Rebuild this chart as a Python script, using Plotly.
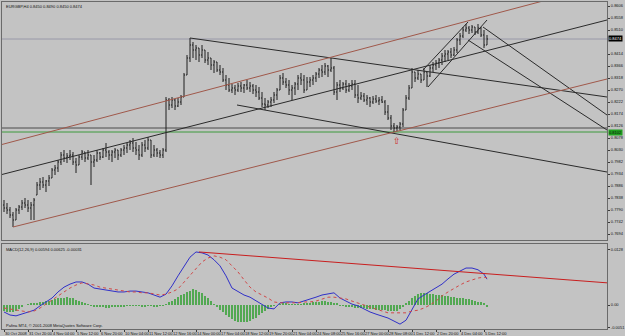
import plotly.graph_objects as go

W, H = 625, 336
BG = "#c3c3c3"
FONT = "Liberation Sans"

# ---------------- data ----------------
bars = list(range(162))

high = [0.7830,0.7818,0.7802,0.7782,0.7798,0.7810,0.7830,0.7838,0.7830,0.7822,0.7838,
        0.7902,0.7918,0.7922,0.7910,0.7930,0.7958,0.7970,0.7990,0.8022,0.8030,
        0.8018,0.8030,0.8022,0.7998,0.8010,0.8030,0.8022,0.8030,0.8010,0.8010,
        0.8030,0.8022,0.8038,0.8058,0.8030,0.8030,0.8038,0.8030,0.8038,0.8050,
        0.8058,0.8070,0.8078,0.8062,0.8050,0.8062,0.8070,0.8082,0.8070,0.8050,
        0.8038,0.8030,0.8038,0.8242,0.8238,0.8242,0.8234,0.8238,0.8250,0.8338,
        0.8410,0.8478,0.8462,0.8450,0.8438,0.8450,0.8430,0.8422,0.8398,0.8390,
        0.8382,0.8370,0.8358,0.8330,0.8318,0.8294,0.8290,0.8298,0.8302,0.8294,
        0.8310,0.8302,0.8294,0.8290,0.8282,0.8262,0.8238,0.8230,0.8242,0.8262,
        0.8278,0.8330,0.8338,0.8318,0.8310,0.8290,0.8302,0.8330,0.8338,0.8330,
        0.8322,0.8322,0.8330,0.8342,0.8358,0.8370,0.8378,0.8370,0.8398,0.8366,
        0.8302,0.8310,0.8302,0.8310,0.8298,0.8310,0.8310,0.8290,0.8262,0.8258,
        0.8250,0.8242,0.8246,0.8250,0.8242,0.8246,0.8230,0.8210,0.8170,0.8138,
        0.8130,0.8142,0.8198,0.8250,0.8290,0.8358,0.8342,0.8350,0.8334,0.8358,
        0.8342,0.8370,0.8382,0.8390,0.8398,0.8418,0.8430,0.8430,0.8438,0.8442,
        0.8478,0.8498,0.8522,0.8534,0.8526,0.8530,0.8522,0.8534,0.8522,0.8510,0.8490]

low = [0.7782,0.7774,0.7758,0.7722,0.7750,0.7774,0.7790,0.7798,0.7782,0.7750,0.7750,
       0.7850,0.7870,0.7878,0.7862,0.7886,0.7918,0.7930,0.7942,0.7970,0.7982,
       0.7978,0.7990,0.7970,0.7938,0.7970,0.7990,0.7982,0.7990,0.7890,0.7962,
       0.7982,0.7990,0.7998,0.8002,0.7990,0.7982,0.7998,0.7990,0.8002,0.8010,
       0.8018,0.8030,0.8022,0.8010,0.7990,0.8002,0.8022,0.8030,0.7998,0.8002,
       0.8002,0.7998,0.7998,0.8022,0.8190,0.8198,0.8190,0.8202,0.8210,0.8242,
       0.8330,0.8382,0.8398,0.8390,0.8382,0.8398,0.8378,0.8370,0.8350,0.8338,
       0.8342,0.8330,0.8302,0.8270,0.8262,0.8258,0.8250,0.8262,0.8262,0.8258,
       0.8270,0.8262,0.8254,0.8242,0.8230,0.8202,0.8190,0.8198,0.8202,0.8218,
       0.8230,0.8270,0.8290,0.8278,0.8250,0.8230,0.8250,0.8270,0.8290,0.8258,
       0.8270,0.8282,0.8290,0.8302,0.8318,0.8322,0.8330,0.8322,0.8342,0.8250,
       0.8230,0.8262,0.8270,0.8258,0.8262,0.8270,0.8238,0.8218,0.8230,0.8222,
       0.8210,0.8202,0.8214,0.8218,0.8210,0.8218,0.8170,0.8150,0.8110,0.8102,
       0.8106,0.8110,0.8122,0.8190,0.8230,0.8278,0.8302,0.8310,0.8298,0.8310,
       0.8282,0.8322,0.8342,0.8350,0.8358,0.8370,0.8382,0.8390,0.8398,0.8406,
       0.8418,0.8450,0.8478,0.8502,0.8494,0.8498,0.8490,0.8494,0.8482,0.8438,0.8450]

open_ = [0.7810,0.7798,0.7790,0.7770,0.7750,0.7790,0.7802,0.7818,0.7810,0.7798,0.7810,
         0.7850,0.7890,0.7902,0.7890,0.7906,0.7918,0.7950,0.7958,0.7982,0.8010,
         0.7998,0.8006,0.8010,0.7982,0.7970,0.8002,0.8022,0.7998,0.8010,0.7982,
         0.7990,0.8018,0.8002,0.8030,0.8022,0.8010,0.8022,0.8030,0.8010,0.8030,
         0.8038,0.8050,0.8058,0.8038,0.8030,0.8010,0.8050,0.8038,0.8070,0.8010,
         0.8030,0.8018,0.8010,0.8030,0.8230,0.8210,0.8230,0.8206,0.8222,0.8242,
         0.8330,0.8398,0.8450,0.8430,0.8438,0.8410,0.8430,0.8390,0.8398,0.8370,
         0.8382,0.8350,0.8342,0.8310,0.8290,0.8270,0.8278,0.8270,0.8286,0.8278,
         0.8290,0.8278,0.8286,0.8270,0.8262,0.8238,0.8214,0.8210,0.8222,0.8230,
         0.8250,0.8270,0.8318,0.8302,0.8290,0.8270,0.8278,0.8294,0.8318,0.8310,
         0.8270,0.8302,0.8310,0.8318,0.8334,0.8350,0.8342,0.8366,0.8350,0.8358,
         0.8262,0.8290,0.8278,0.8294,0.8270,0.8286,0.8294,0.8250,0.8238,0.8246,
         0.8230,0.8238,0.8222,0.8234,0.8226,0.8230,0.8222,0.8182,0.8158,0.8126,
         0.8118,0.8122,0.8134,0.8190,0.8238,0.8278,0.8342,0.8318,0.8334,0.8310,
         0.8342,0.8326,0.8358,0.8370,0.8378,0.8390,0.8406,0.8414,0.8422,0.8410,
         0.8430,0.8470,0.8486,0.8510,0.8518,0.8510,0.8522,0.8502,0.8518,0.8490,0.8450]

close = [0.7798,0.7790,0.7770,0.7750,0.7790,0.7802,0.7818,0.7810,0.7798,0.7810,0.7830,
         0.7890,0.7902,0.7890,0.7906,0.7918,0.7950,0.7958,0.7982,0.8010,0.7998,
         0.8006,0.8010,0.7982,0.7970,0.8002,0.8022,0.7998,0.8010,0.7982,0.7990,
         0.8018,0.8002,0.8030,0.8022,0.8010,0.8022,0.8030,0.8010,0.8030,0.8038,
         0.8050,0.8058,0.8038,0.8030,0.8010,0.8050,0.8038,0.8070,0.8010,0.8030,
         0.8018,0.8010,0.8030,0.8230,0.8210,0.8230,0.8206,0.8222,0.8242,0.8330,
         0.8398,0.8450,0.8430,0.8438,0.8410,0.8430,0.8390,0.8398,0.8370,0.8382,
         0.8350,0.8342,0.8310,0.8290,0.8270,0.8278,0.8270,0.8286,0.8278,0.8290,
         0.8278,0.8286,0.8270,0.8262,0.8238,0.8214,0.8210,0.8222,0.8230,0.8250,
         0.8270,0.8318,0.8302,0.8290,0.8270,0.8278,0.8294,0.8318,0.8310,0.8270,
         0.8302,0.8310,0.8318,0.8334,0.8350,0.8342,0.8366,0.8350,0.8358,0.8262,
         0.8290,0.8278,0.8294,0.8270,0.8286,0.8294,0.8250,0.8238,0.8246,0.8230,
         0.8238,0.8222,0.8234,0.8226,0.8230,0.8222,0.8182,0.8158,0.8126,0.8118,
         0.8122,0.8134,0.8190,0.8238,0.8278,0.8342,0.8318,0.8334,0.8310,0.8342,
         0.8326,0.8358,0.8370,0.8378,0.8390,0.8406,0.8414,0.8422,0.8410,0.8430,
         0.8470,0.8486,0.8510,0.8518,0.8510,0.8522,0.8502,0.8518,0.8490,0.8450,0.8474]

macd_x = list(range(0, 161, 2)) + [161]
macd_main = [-0.0016,-0.0023,-0.0025,-0.0021,-0.0016,-0.0012,-0.0002,0.0007,0.0016,0.0030,
             0.0041,0.0048,0.0053,0.0053,0.0048,0.0039,0.0037,0.0035,0.0032,0.0030,
             0.0030,0.0032,0.0032,0.0030,0.0028,0.0023,0.0018,0.0025,0.0044,0.0067,
             0.0090,0.0110,0.0122,0.0120,0.0115,0.0104,0.0090,0.0067,0.0039,0.0030,
             0.0023,0.0018,0.0009,0.0000,-0.0007,-0.0009,0.0005,0.0007,0.0007,0.0005,
             0.0009,0.0014,0.0018,0.0023,0.0025,0.0028,0.0016,0.0009,0.0002,-0.0002,
             -0.0009,-0.0016,-0.0021,-0.0025,-0.0030,-0.0037,-0.0044,-0.0035,-0.0009,0.0014,
             0.0023,0.0032,0.0039,0.0048,0.0060,0.0071,0.0078,0.0085,0.0085,0.0081,
             0.0071,0.00594]
macd_signal = [-0.0007,-0.0009,-0.0012,-0.0014,-0.0016,-0.0014,-0.0007,0.0002,0.0012,0.0021,
               0.0030,0.0039,0.0046,0.0051,0.0048,0.0046,0.0041,0.0039,0.0037,0.0035,
               0.0032,0.0030,0.0030,0.0028,0.0028,0.0025,0.0023,0.0025,0.0030,0.0037,
               0.0053,0.0069,0.0085,0.0099,0.0108,0.0113,0.0110,0.0104,0.0090,0.0076,
               0.0058,0.0041,0.0030,0.0023,0.0016,0.0007,0.0005,0.0005,0.0005,0.0005,
               0.0007,0.0007,0.0009,0.0014,0.0018,0.0018,0.0016,0.0014,0.0009,0.0005,
               0.0000,-0.0005,-0.0009,-0.0014,-0.0018,-0.0018,-0.0018,-0.0018,-0.0014,-0.0012,
               -0.0007,0.0000,0.0009,0.0021,0.0030,0.0039,0.0046,0.0053,0.0058,0.0062,
               0.0064,0.00625]
macd_hist = [-0.0014,-0.0015,-0.0016,-0.0015,-0.0013,-0.0010,
             -0.0004,0.0000,0.0002,0.0003,0.0004,
             0.0005,0.0006,0.0008,0.0009,0.0010,0.0012,0.0013,0.0015,0.0016,0.0017,0.0018,
             0.0017,0.0015,0.0012,0.0009,0.0006,0.0003,0.0001,
             -0.0002,-0.0003,-0.0004,-0.0005,-0.0005,-0.0006,-0.0006,-0.0005,-0.0005,-0.0004,
             -0.0004,-0.0003,-0.0002,-0.0002,-0.0001,-0.0001,-0.0002,-0.0003,-0.0003,-0.0002,
             -0.0002,-0.0003,-0.0003,-0.0002,-0.0001,
             0.0002,0.0006,0.0010,0.0014,0.0018,0.0022,0.0026,0.0030,0.0033,0.0036,0.0034,0.0031,0.0027,
             0.0021,0.0015,0.0009,
             0.0002,-0.0005,-0.0011,-0.0017,-0.0023,-0.0028,-0.0033,-0.0036,-0.0038,-0.0039,
             -0.0039,-0.0038,-0.0036,-0.0033,-0.0029,-0.0024,-0.0019,-0.0014,-0.0009,
             -0.0005,-0.0002,0.0000,0.0002,0.0003,0.0003,0.0002,0.0002,0.0001,0.0001,
             0.0002,0.0003,0.0004,0.0005,0.0006,0.0007,0.0008,0.0009,0.0009,0.0008,0.0007,0.0005,0.0003,
             -0.0001,-0.0002,-0.0003,-0.0004,-0.0005,-0.0006,-0.0007,-0.0008,-0.0008,-0.0009,
             -0.0010,-0.0010,-0.0011,-0.0011,-0.0012,-0.0012,-0.0013,-0.0013,-0.0014,-0.0014,
             -0.0010,-0.0004,0.0003,0.0010,0.0016,0.0021,0.0025,0.0028,
             0.0028,0.0027,0.0026,0.0025,0.0024,0.0023,0.0022,0.0021,0.0020,0.0019,0.0018,
             0.0017,0.0016,0.0015,0.0014,0.0013,0.0012,0.0010,0.0008,0.0006,0.0003,-0.00031]

time_tick_bars = list(range(0, 161, 8))
time_tick_text = ["30 Oct 2008", "31 Oct 20:00", "4 Nov 04:00", "5 Nov 12:00", "6 Nov 20:00",
                  "10 Nov 04:00", "11 Nov 12:00", "12 Nov 16:00", "14 Nov 00:00", "17 Nov 04:00",
                  "18 Nov 12:00", "19 Nov 20:00", "21 Nov 04:00", "24 Nov 08:00", "25 Nov 16:00",
                  "27 Nov 00:00", "28 Nov 08:00", "1 Dec 12:00", "2 Dec 20:00", "4 Dec 04:00",
                  "5 Dec 12:00"]

price_ticks = [0.8606, 0.8558, 0.8510, 0.8414, 0.8366, 0.8318, 0.8270, 0.8222, 0.8174,
               0.8126, 0.8078, 0.8030, 0.7982, 0.7934, 0.7886, 0.7838, 0.7790, 0.7742, 0.7694]
macd_ticks = [0.0128, 0.0, -0.0051]
macd_tick_text = ["0.0128", "0.00", "-0.0051"]

# trend lines drawn on the price panel: (bar0, price0, bar1, price1)
channel_mid = (-1.33, 0.7930, 201.0, 0.8550)
channel_upper = (-1.33, 0.8050, 201.0, 0.8694)
channel_lower = (3.0, 0.7722, 201.0, 0.8314)
desc_upper = (62.0, 0.8478, 201.0, 0.8242)
desc_lower = (77.67, 0.8210, 201.0, 0.7942)
rise_upper = (139.67, 0.8350, 154.67, 0.8542)
rise_lower = (141.33, 0.8282, 161.0, 0.8550)
fork_a = (159.67, 0.8522, 201.0, 0.8170)
fork_b = (154.67, 0.8470, 201.0, 0.8110)
level_dark = 0.8118
level_green = 0.8102
macd_trend = (65.0, 0.0122, 201.0, 0.0051)
arrow_bar, arrow_price = 131, 0.8066

# ---------------- figure ----------------
def fx(px):
    return px / W

def fy(px):
    return 1 - px / H

fig = go.Figure()
fig.add_trace(go.Ohlc(
    x=bars, open=open_, high=high, low=low, close=close,
    increasing=dict(line=dict(color="#1e1e1e", width=1)),
    decreasing=dict(line=dict(color="#1e1e1e", width=1)),
    tickwidth=0.34, xaxis="x", yaxis="y", hoverinfo="skip", showlegend=False))
fig.add_trace(go.Bar(
    x=bars, y=macd_hist, width=0.3, marker=dict(color="#52a852", line=dict(width=0)),
    xaxis="x2", yaxis="y2", showlegend=False, hoverinfo="skip"))
fig.add_trace(go.Scatter(
    x=macd_x, y=macd_main, mode="lines", line=dict(color="#3030c8", width=1),
    xaxis="x2", yaxis="y2", showlegend=False, hoverinfo="skip"))
fig.add_trace(go.Scatter(
    x=macd_x, y=macd_signal, mode="lines", line=dict(color="#d04848", width=1, dash="dot"),
    xaxis="x2", yaxis="y2", showlegend=False, hoverinfo="skip"))

shapes = []
def seg(p, color, xr="x", yr="y", width=1):
    shapes.append(dict(type="line", xref=xr, yref=yr, x0=p[0], y0=p[1], x1=p[2], y1=p[3],
                       line=dict(color=color, width=width), layer="above"))

for p in [channel_mid, desc_upper, desc_lower, rise_upper, rise_lower, fork_a, fork_b]:
    seg(p, "#2a2a2a")
seg(channel_upper, "#a0584a")
seg(channel_lower, "#a0584a")
seg(macd_trend, "#c81e1e", "x2", "y2")

for lvl, col in [(close[-1], "#9898a8"), (level_dark, "#4a4a4a"), (level_green, "#3c9a3c")]:
    shapes.append(dict(type="line", xref="x domain", yref="y", x0=0, x1=1, y0=lvl, y1=lvl,
                       line=dict(color=col, width=1), layer="below"))

xdom = [fx(2), fx(607)]
axis_common = dict(showgrid=False, zeroline=False, showline=True, mirror=True,
                   linecolor="#6a6a6a", linewidth=1, tickcolor="#3a3a3a",
                   tickfont=dict(family=FONT, size=4, color="#111"))

fig.update_layout(
    width=W, height=H, margin=dict(l=0, r=0, t=0, b=0), autosize=False,
    paper_bgcolor=BG, plot_bgcolor=BG, showlegend=False, bargap=0,
    font=dict(family=FONT, size=4, color="#111"),
    xaxis=dict(domain=xdom, range=[-0.667, 201.0], anchor="y", showticklabels=False,
               ticks="", rangeslider=dict(visible=False), **axis_common),
    yaxis=dict(domain=[fy(240), fy(2)], range=[0.7670, 0.8622], side="right", anchor="x",
               tickvals=price_ticks, ticktext=[f"{v:.4f}" for v in price_ticks],
               ticks="outside", ticklen=2, **axis_common),
    xaxis2=dict(domain=xdom, range=[-0.667, 201.0], anchor="y2", matches="x",
                tickvals=time_tick_bars, ticktext=time_tick_text, ticks="outside", ticklen=2,
                tickangle=0, ticklabelposition="outside right",
                rangeslider=dict(visible=False), **axis_common),
    yaxis2=dict(domain=[fy(329), fy(244)], range=[-0.00552, 0.01403], side="right", anchor="x2",
                tickvals=macd_ticks, ticktext=macd_tick_text, ticks="outside", ticklen=2,
                **axis_common),
    shapes=shapes,
)

ann = []
ann.append(dict(xref="paper", yref="paper", x=fx(4), y=fy(6), xanchor="left", yanchor="middle",
                text=f"EURGBP,H4 {open_[-1]:.4f} {high[-1]:.4f} {low[-1]:.4f} {close[-1]:.4f}",
                showarrow=False, font=dict(family=FONT, size=4, color="#111")))
ann.append(dict(xref="paper", yref="paper", x=fx(4), y=fy(249), xanchor="left", yanchor="middle",
                text=f"MACD(12,26,9) {macd_main[-1]:.5f} {macd_signal[-1]:.5f} {macd_hist[-1]:.5f}",
                showarrow=False, font=dict(family=FONT, size=4, color="#111")))
ann.append(dict(xref="paper", yref="paper", x=fx(4), y=fy(325), xanchor="left", yanchor="middle",
                text="Pafina MT4, © 2001-2008 MetaQuotes Software Corp.",
                showarrow=False, font=dict(family=FONT, size=4, color="#111")))
ann.append(dict(xref="paper", yref="y", x=fx(607.5), y=close[-1], xanchor="left", yanchor="middle",
                text=f"{close[-1]:.4f}", showarrow=False, bgcolor="#000000", borderpad=0,
                font=dict(family=FONT, size=4, color="#ffffff")))
ann.append(dict(xref="paper", yref="y", x=fx(607.5), y=level_green, xanchor="left", yanchor="middle",
                text=f"{level_green:.4f}", showarrow=False, bgcolor="#1fa01f", borderpad=0,
                font=dict(family=FONT, size=4, color="#111")))
ann.append(dict(xref="x", yref="y", x=arrow_bar, y=arrow_price, xanchor="center", yanchor="middle",
                text="⇧", showarrow=False, font=dict(family="DejaVu Sans", size=9, color="#d02020")))
fig.update_layout(annotations=ann)

fig.write_html("out.html")
